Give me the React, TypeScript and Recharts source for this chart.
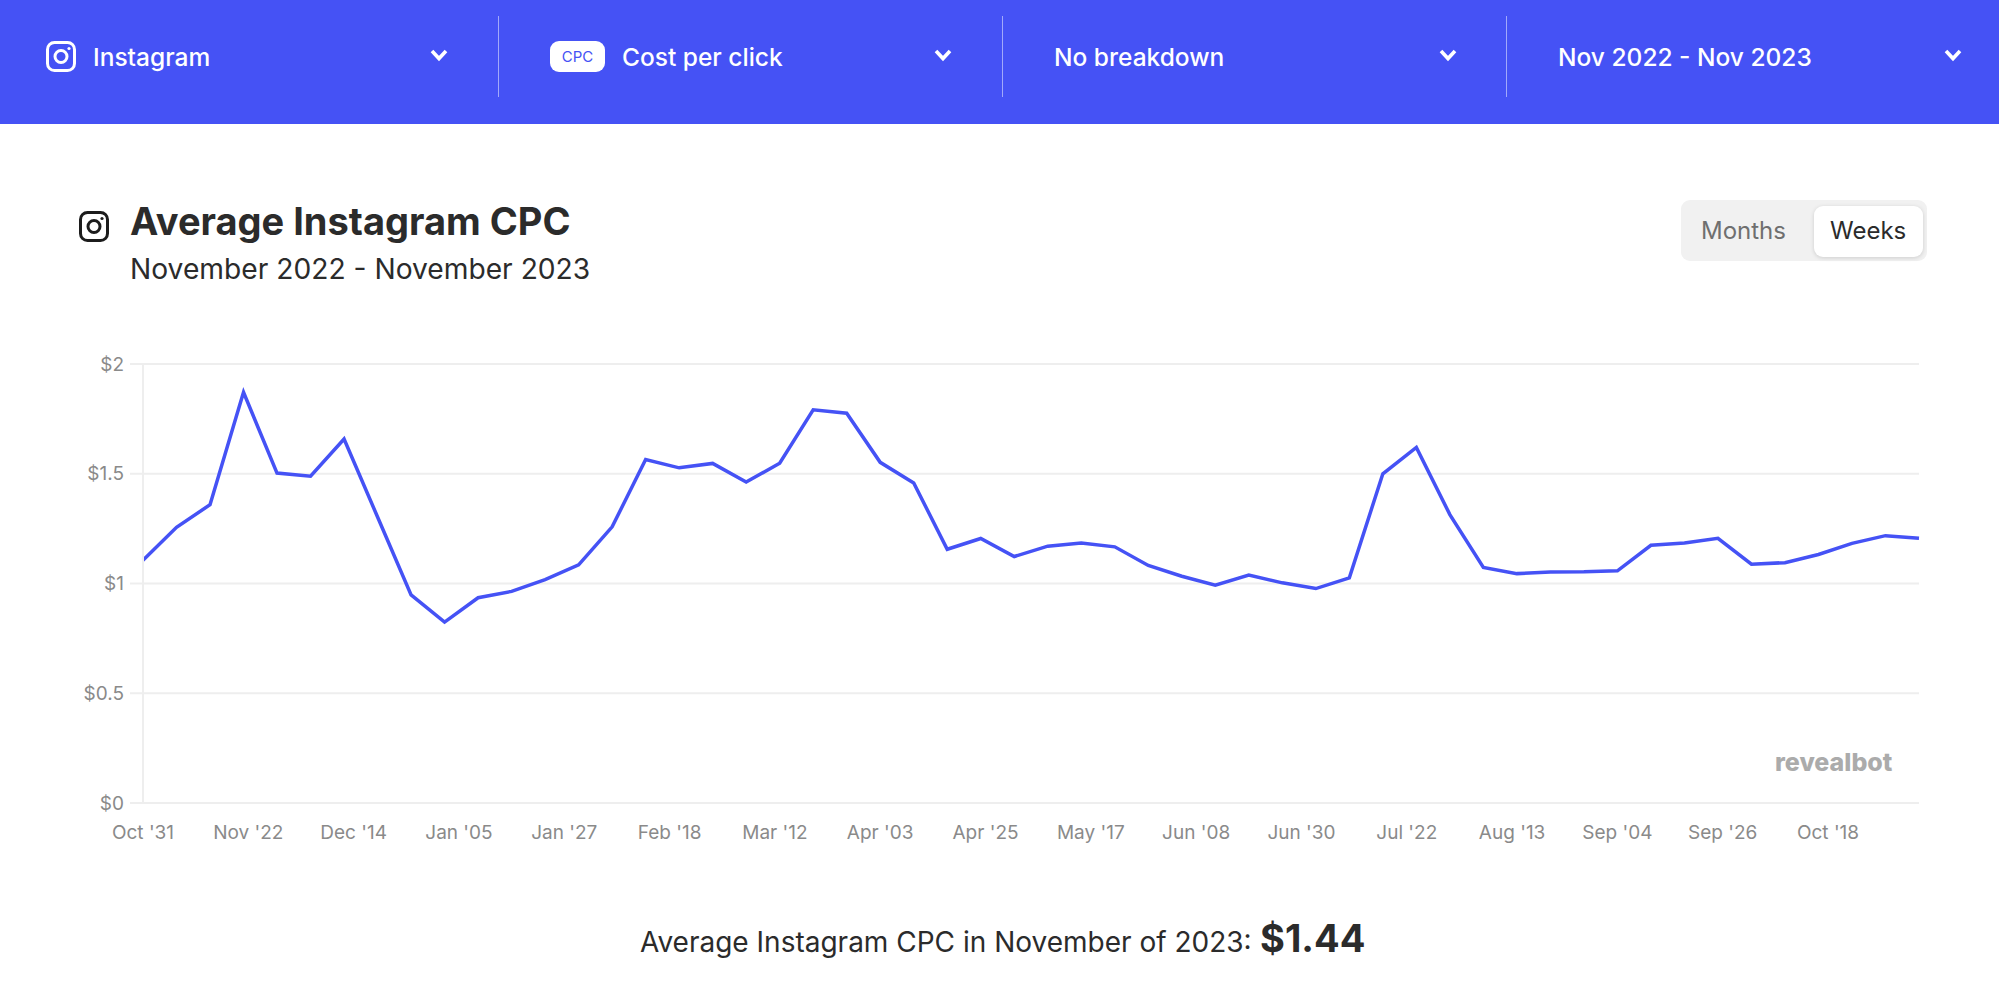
/**
 * Average Instagram CPC - weekly line chart with the filter bar above it
 */
import { CartesianGrid, Line, LineChart, XAxis, YAxis } from 'recharts';
import type { CSSProperties, ReactNode } from 'react';

const BLUE = '#4552f5';
const GRID = '#eeeeee';
const FONT = 'Inter, "Noto Sans", sans-serif';

// days since Oct 31, one point per week
const weekDays = [
  0, 7, 14, 21, 28, 35, 42, 49, 56, 63, 70, 77, 84, 91, 98, 105, 112, 119,
  126, 133, 140, 147, 154, 161, 168, 175, 182, 189, 196, 203, 210, 217, 224, 231, 238, 245,
  252, 259, 266, 273, 280, 287, 294, 301, 308, 315, 322, 329, 336, 343, 350, 357, 364, 371,
];
const cpcValues = [
  1.106, 1.256, 1.359, 1.871, 1.503, 1.489, 1.658, 1.303, 0.948, 0.824, 0.935, 0.964, 1.018, 1.085, 1.258, 1.565, 1.527, 1.547,
  1.462, 1.548, 1.791, 1.776, 1.552, 1.458, 1.156, 1.205, 1.123, 1.17, 1.185, 1.167, 1.082, 1.033, 0.992, 1.038, 1.003, 0.977,
  1.026, 1.5, 1.62, 1.314, 1.073, 1.045, 1.052, 1.053, 1.058, 1.174, 1.185, 1.206, 1.088, 1.095, 1.132, 1.183, 1.218, 1.206,
];
// the axis is a time scale, with a label every 22 days
const tickDays = [0, 22, 44, 66, 88, 110, 132, 154, 176, 198, 220, 242, 264, 286, 308, 330, 352];
const tickLabels = [
  "Oct '31", "Nov '22", "Dec '14", "Jan '05", "Jan '27", "Feb '18", "Mar '12", "Apr '03", "Apr '25",
  "May '17", "Jun '08", "Jun '30", "Jul '22", "Aug '13", "Sep '04", "Sep '26", "Oct '18",
];
const yTicks = [0, 0.5, 1, 1.5, 2];

const chartData = weekDays.map((day, i) => ({ day, cpc: cpcValues[i] }));

// places a line of text by its left edge and vertical centre
function Label({ x, cy, size, weight = 400, color = '#2b2b2b', children, style }: {
  x: number;
  cy: number;
  size: number;
  weight?: number;
  color?: string;
  children: ReactNode;
  style?: CSSProperties;
}) {
  return (
    <div
      style={{
        position: 'absolute',
        left: x,
        top: cy - size,
        height: size * 2,
        lineHeight: `${size * 2}px`,
        fontSize: size,
        fontWeight: weight,
        color,
        whiteSpace: 'nowrap',
        ...style,
      }}
    >
      {children}
    </div>
  );
}

function InstagramIcon({ x, y, color }: { x: number; y: number; color: string }) {
  return (
    <svg width={30} height={31} viewBox="0 0 30 31" style={{ position: 'absolute', left: x, top: y }}>
      <rect x={1.5} y={1.5} width={27} height={28} rx={7} fill="none" stroke={color} strokeWidth={3} />
      <circle cx={15} cy={15.5} r={6} fill="none" stroke={color} strokeWidth={3} />
      <circle cx={23} cy={7.5} r={1.6} fill={color} />
    </svg>
  );
}

function Chevron({ x }: { x: number }) {
  return (
    <svg width={20} height={14} viewBox="0 0 20 14" style={{ position: 'absolute', left: x - 10, top: 48 }}>
      <path d="M3 3 L10 10.5 L17 3" fill="none" stroke="#fff" strokeWidth={3.6} />
    </svg>
  );
}

function Divider({ x }: { x: number }) {
  return (
    <div
      style={{
        position: 'absolute',
        left: x,
        top: 16,
        width: 1,
        height: 81,
        background: 'rgba(255,255,255,0.5)',
      }}
    />
  );
}

export default function App() {
  return (
    <div
      style={{
        position: 'absolute',
        left: 0,
        top: 0,
        width: 1999,
        height: 993,
        overflow: 'hidden',
        background: '#fff',
        fontFamily: FONT,
      }}
    >
      {/* Filter bar */}
      <div style={{ position: 'absolute', left: 0, top: 0, width: 1999, height: 124, background: BLUE }} />
      <InstagramIcon x={46} y={41} color="#fff" />
      <Label x={93} cy={57} size={24.5} weight={500} color="#fff">Instagram</Label>
      <Chevron x={439} />
      <Divider x={498} />
      <div
        style={{
          position: 'absolute',
          left: 550,
          top: 41,
          width: 55,
          height: 31,
          borderRadius: 9,
          background: '#fff',
          color: BLUE,
          fontSize: 15,
          lineHeight: '31px',
          textAlign: 'center',
        }}
      >
        CPC
      </div>
      <Label x={622} cy={57} size={24.5} weight={500} color="#fff">Cost per click</Label>
      <Chevron x={943} />
      <Divider x={1002} />
      <Label x={1054} cy={57} size={24.5} weight={500} color="#fff">No breakdown</Label>
      <Chevron x={1448} />
      <Divider x={1506} />
      <Label x={1558} cy={57} size={24.5} weight={500} color="#fff">Nov 2022 - Nov 2023</Label>
      <Chevron x={1953} />

      {/* Heading */}
      <InstagramIcon x={79} y={211} color="#1c1c1c" />
      <Label x={130} cy={221} size={38} weight={700}>Average Instagram CPC</Label>
      <Label x={130} cy={269} size={28.2}>November 2022 - November 2023</Label>

      {/* Months / Weeks toggle */}
      <div style={{ position: 'absolute', left: 1681, top: 200, width: 246, height: 61, borderRadius: 9, background: '#f1f1f1' }} />
      <div
        style={{
          position: 'absolute',
          left: 1814,
          top: 206,
          width: 109,
          height: 51,
          borderRadius: 9,
          background: '#fff',
          boxShadow: '0 1px 4px rgba(0,0,0,0.15)',
        }}
      />
      <Label x={1701} cy={231} size={24} color="#6f6f6f">Months</Label>
      <Label x={1830} cy={231} size={24}>Weeks</Label>

      {/* Chart */}
      <div style={{ position: 'absolute', left: 0, top: 340 }}>
        <LineChart
          width={1999}
          height={540}
          data={chartData}
          margin={{ top: 24, right: 80, bottom: 0, left: 0 }}
        >
          <CartesianGrid horizontal vertical={false} stroke={GRID} strokeWidth={2} />
          <XAxis
            dataKey="day"
            type="number"
            domain={[0, 371]}
            ticks={tickDays}
            interval={0}
            tickFormatter={(v: number) => tickLabels[tickDays.indexOf(v)]}
            height={77}
            tickLine={false}
            axisLine={{ stroke: GRID, strokeWidth: 2 }}
            tickMargin={17}
            tick={{ fontSize: 19, fill: '#8a8a8a', fontFamily: FONT }}
          />
          <YAxis
            type="number"
            domain={[0, 2]}
            ticks={yTicks}
            width={143}
            tickSize={13}
            tickMargin={6}
            tickLine={{ stroke: GRID, strokeWidth: 2 }}
            axisLine={{ stroke: GRID, strokeWidth: 2 }}
            tickFormatter={(v: number) => `$${v}`}
            tick={{ fontSize: 19, fill: '#8a8a8a', fontFamily: FONT }}
          />
          <Line
            dataKey="cpc"
            type="linear"
            stroke={BLUE}
            strokeWidth={3.5}
            dot={false}
            isAnimationActive={false}
          />
        </LineChart>
      </div>
      <Label x={1775} cy={762} size={25} weight={800} color="#ababab">revealbot</Label>

      {/* Summary line */}
      <Label x={640} cy={942} size={28}>Average Instagram CPC in November of 2023:</Label>
      <Label x={1260} cy={938} size={38} weight={700}>$1.44</Label>
    </div>
  );
}
